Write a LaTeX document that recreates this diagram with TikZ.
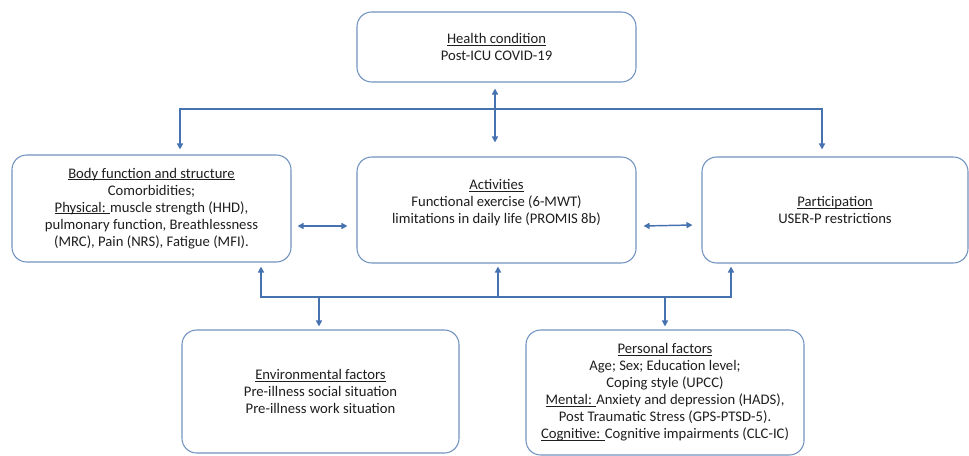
\documentclass[tikz,border=0pt]{standalone}
\usepackage{fontspec}
\setmainfont{Carlito}
\usetikzlibrary{arrows.meta,calc}
\definecolor{boxc}{RGB}{112,146,190}
\definecolor{arrc}{RGB}{70,114,176}
\definecolor{txtc}{RGB}{30,30,30}
\newcommand{\ulx}[1]{\leavevmode\setbox0=\hbox{#1}\rlap{\rule[-1.4pt]{\wd0}{0.55pt}}\box0}
\begin{document}
\begin{tikzpicture}[x=0.75pt,y=-0.75pt,
  box/.style={draw=boxc, line width=0.8pt, rounded corners=11pt, align=center,
    text=txtc, font=\fontsize{11}{12.75}\selectfont, inner sep=0pt},
  conn/.style={draw=arrc, line width=1.1pt},
  tipend/.style={-{Triangle[length=4.5pt,width=4.5pt]}},
  tipboth/.style={{Triangle[length=4.5pt,width=4.5pt]}-{Triangle[length=4.5pt,width=4.5pt]}}]
\useasboundingbox (0,0) rectangle (969,456);
% boxes
\node[box, minimum width=209.25pt, minimum height=52.5pt] (health) at (496.5,47)
  {\ulx{Health condition}\\Post-ICU COVID-19};
\node[box, minimum width=209.25pt, minimum height=80.25pt] (body) at (151.5,208.5)
  {\ulx{Body function and structure}\\Comorbidities;\\\ulx{Physical: }muscle strength (HHD),\\pulmonary function, Breathlessness\\(MRC), Pain (NRS), Fatigue (MFI).};
\node[box, minimum width=209.25pt, minimum height=79.5pt] (act) at (496.5,210)
  {\ulx{Activities}\\Functional exercise (6-MWT)\\limitations in daily life (PROMIS 8b)\\\mbox{}};
\node[box, minimum width=199.5pt, minimum height=79.5pt] (part) at (835,210)
  {\ulx{Participation}\\USER-P restrictions};
\node[box, minimum width=207.75pt, minimum height=92.25pt] (env) at (320.5,391.5)
  {\ulx{Environmental factors}\\Pre-illness social situation\\Pre-illness work situation};
\node[box, minimum width=208.5pt, minimum height=93.75pt] (pers) at (665,392.5)
  {\ulx{Personal factors}\\Age; Sex; Education level;\\Coping style (UPCC)\\\ulx{Mental: }Anxiety and depression (HADS),\\Post Traumatic Stress (GPS-PTSD-5).\\\ulx{Cognitive: }Cognitive impairments (CLC-IC)};
% top bus
\coordinate (tl) at (180,109);
\coordinate (tr) at (822,109);
\draw[conn, tipboth] ($(tl |- body.north)+(0,-5)$) -- (tl) -- (tr) -- ($(tr |- part.north)+(0,-7)$);
\draw[conn, tipboth] ($(health.south)+(-1.5,6)$) -- ($(act.north)+(-1.5,-14)$);
% side arrows
\draw[conn, tipboth] ($(body.east)+(6,17.5)$) -- ($(act.west)+(-9,16)$);
\draw[conn, tipboth] ($(act.east)+(7,16)$) -- ($(part.west)+(-9,15)$);
% bottom bus
\coordinate (bl) at (261,297);
\coordinate (br) at (731,297);
\draw[conn, tipboth] ($(bl |- body.south)+(0,4)$) -- (bl) -- (br) -- ($(br |- part.south)+(0,3)$);
\draw[conn, tipend] ($(act.south |- bl)+(1.5,0)$) -- ($(act.south)+(1.5,3)$);
\draw[conn, tipend] ($(env.north |- bl)+(-1.5,0)$) -- ($(env.north)+(-1.5,-3)$);
\draw[conn, tipend] (pers.north |- bl) -- ($(pers.north)+(0,-3)$);
\end{tikzpicture}
\end{document}
